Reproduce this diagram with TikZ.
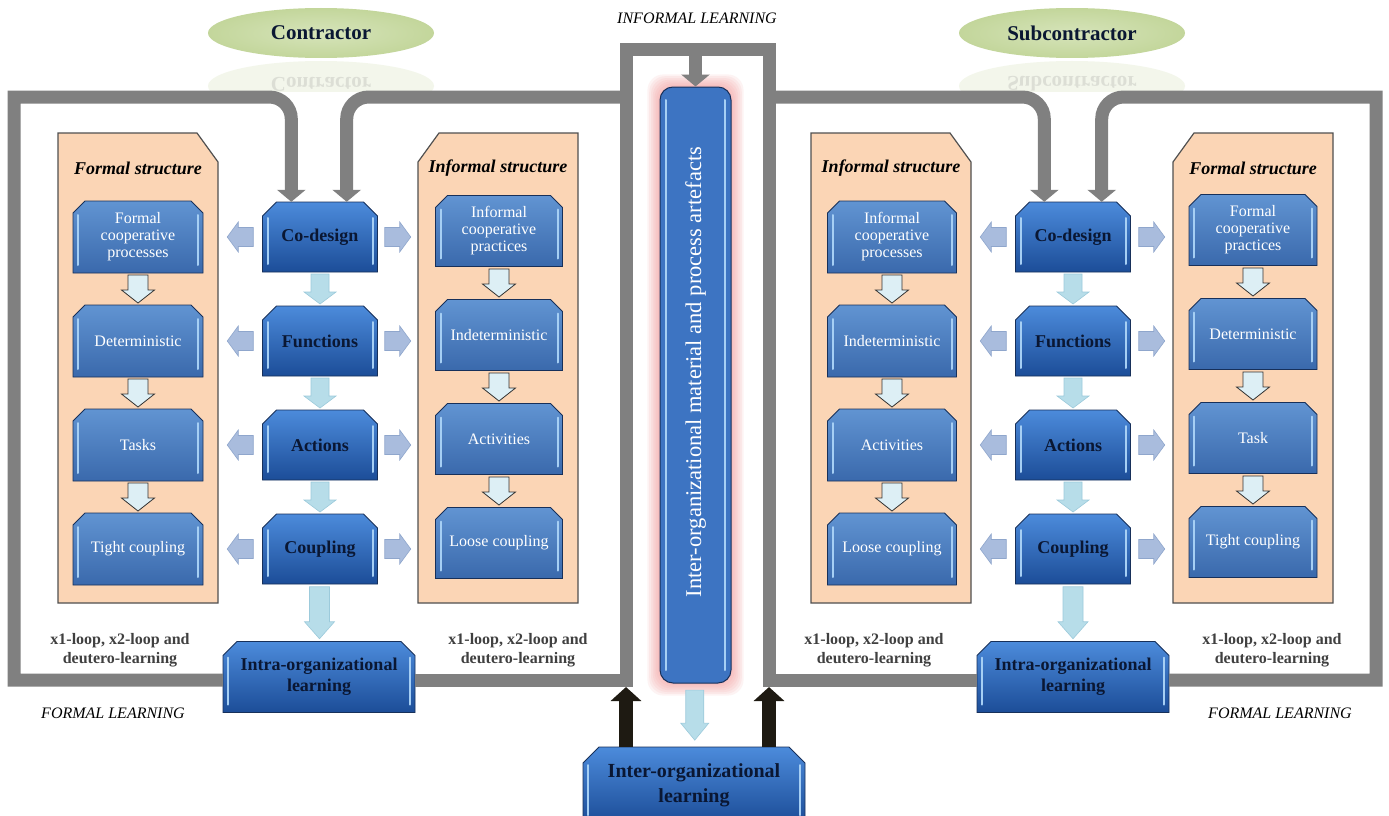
\documentclass[tikz,border=0pt]{standalone}
\usepackage{fontspec}
\setmainfont{Liberation Serif}
\usetikzlibrary{arrows.meta,calc,shapes.geometric}
\definecolor{gframe}{HTML}{808080}
\definecolor{peach}{HTML}{FBD5B5}
\definecolor{pedge}{HTML}{505050}
\definecolor{cbTop}{HTML}{4C8BDB}
\definecolor{cbBot}{HTML}{1C4D98}
\definecolor{pbTop}{HTML}{6194D2}
\definecolor{pbBot}{HTML}{3A69AC}
\definecolor{bedge}{HTML}{17305A}
\definecolor{hl}{HTML}{A6CFF4}
\definecolor{sideA}{HTML}{A9BCDD}
\definecolor{sideE}{HTML}{8FA6CC}
\definecolor{cyanA}{HTML}{B7DDE9}
\definecolor{cyanE}{HTML}{9CCADB}
\definecolor{panA}{HTML}{DDEFF5}
\definecolor{olive}{HTML}{C3D69B}
\definecolor{oliveL}{HTML}{D6E4BA}
\definecolor{loopc}{HTML}{404040}
\definecolor{pillc}{HTML}{3D74C2}
\definecolor{glowc}{HTML}{F08080}
\definecolor{navyt}{HTML}{0A1733}
\definecolor{blk}{HTML}{1E1A12}

\newcommand\mkbox[8]{%
  \path[#7fill] ({#2-#4/2},{#3+#5/2}) -- ({#2-#4/2},{#3-#5/2+#6}) -- ({#2-#4/2+#6},{#3-#5/2}) -- ({#2+#4/2-#6},{#3-#5/2}) -- ({#2+#4/2},{#3-#5/2+#6}) -- ({#2+#4/2},{#3+#5/2}) -- cycle;
  \draw[hilite] ({#2-#4/2+5},{#3-#5/2+#6+2}) -- ({#2-#4/2+5},{#3+#5/2-8});
  \draw[hilite] ({#2+#4/2-5},{#3-#5/2+#6+2}) -- ({#2+#4/2-5},{#3+#5/2-8});
  \node[#7text, minimum width=#4pt, minimum height=#5pt] (#1) at (#2,#3) {#8};}

\newcommand\panelNE[4]{%
  \path[panelfill] ({#2-80},{#3-235}) -- ({#2+59},{#3-235}) -- ({#2+80},{#3-206}) -- ({#2+80},{#3+235}) -- ({#2-80},{#3+235}) -- cycle;
  \node[inner sep=0pt, minimum width=160pt, minimum height=470pt] (#1) at (#2,#3) {};
  \node[paneltitle] (#1t) at (#2,{#3-200}) {#4};}
\newcommand\panelNW[4]{%
  \path[panelfill] ({#2+80},{#3-235}) -- ({#2-59},{#3-235}) -- ({#2-80},{#3-206}) -- ({#2-80},{#3+235}) -- ({#2+80},{#3+235}) -- cycle;
  \node[inner sep=0pt, minimum width=160pt, minimum height=470pt] (#1) at (#2,#3) {};
  \node[paneltitle] (#1t) at (#2,{#3-200}) {#4};}

\tikzset{
 gline/.style={draw=gframe, line width=13pt, line join=miter, line cap=butt},
 garrow/.style={gline, -{Triangle[width=28pt,length=12pt]}},
 blarrow/.style={draw=blk, line width=14pt, -{Triangle[width=30pt,length=14pt]}},
 cboxfill/.style={top color=cbTop, bottom color=cbBot, draw=bedge, line width=0.9pt},
 iboxfill/.style={cboxfill},
 pboxfill/.style={top color=pbTop, bottom color=pbBot, draw=bedge, line width=0.9pt},
 hilite/.style={draw=hl, line width=2pt, line cap=round},
 cboxtext/.style={inner sep=0pt, align=center, text=navyt, font=\bfseries\fontsize{18}{21}\selectfont},
 iboxtext/.style={inner sep=0pt, align=center, text=navyt, font=\bfseries\fontsize{20}{25}\selectfont},
 pboxtext/.style={inner sep=0pt, align=center, text=white, font=\fontsize{16}{17}\selectfont},
 panelfill/.style={fill=peach, draw=pedge, line width=1.2pt},
 paneltitle/.style={font=\bfseries\itshape\fontsize{18}{20}\selectfont, text=black},
 sidearr/.style={fill=sideA, draw=sideE, line width=.6pt},
 cyanarr/.style={fill=cyanA, draw=cyanE, line width=.6pt},
 panarr/.style={fill=panA, draw=black!80, line width=.8pt},
 looptext/.style={font=\bfseries\fontsize{16}{19}\selectfont, text=loopc, align=center},
 learn/.style={font=\itshape\fontsize{16}{19}\selectfont, text=black},
 ellip/.style={ellipse, minimum width=226pt, minimum height=50pt, inner sep=0pt, font=\bfseries\fontsize{21}{24}\selectfont, text=navyt},
 pics/barrow/.style args={#1/#2/#3/#4}{code={%
   \path[pic actions] ({-#1/2},{-#2/2}) -- ({#1/2-#4},{-#2/2}) -- ({#1/2-#4},{-#3/2}) -- ({#1/2},0) -- ({#1/2-#4},{#3/2}) -- ({#1/2-#4},{#2/2}) -- ({-#1/2},{#2/2}) -- cycle;}},
}

\begin{document}
\begin{tikzpicture}[x=1pt, y=-1pt]
\useasboundingbox (0,0) rectangle (1389,816);
\fill[white] (0,0) rectangle (1389,816);

% ellipses and reflections
\node[ellip, inner color=oliveL, outer color=olive] (contractor) at (321,33) {Contractor};
\node[ellip, inner color=oliveL, outer color=olive] (subcontractor) at (1072,33) {Subcontractor};
\begin{scope}
  \clip (190,61) rectangle (1200,91);
  \fill[olive, opacity=.2] (321,86) ellipse (113 and 25);
  \fill[olive, opacity=.2] (1072,86) ellipse (113 and 25);
  \begin{scope}[shift={(321,84)}, yscale=-1]
    \node[transform shape, opacity=.2, font=\bfseries\fontsize{21}{24}\selectfont, text=gray] (contractorR) at (0,0) {Contractor};
  \end{scope}
  \begin{scope}[shift={(1072,84)}, yscale=-1]
    \node[transform shape, opacity=.2, font=\bfseries\fontsize{21}{24}\selectfont, text=gray] (subcontractorR) at (0,0) {Subcontractor};
  \end{scope}
\end{scope}

% panels
\panelNE{FL}{138}{368}{Formal structure}
\panelNW{IL}{498}{368}{Informal structure}
\panelNE{IR}{891}{368}{Informal structure}
\panelNW{FR}{1253}{368}{Formal structure}

% left formal panel boxes
\mkbox{fl1}{138}{237}{130}{72}{12}{pbox}{Formal\\cooperative\\processes}
\mkbox{fl2}{138}{341}{130}{72}{12}{pbox}{Deterministic}
\mkbox{fl3}{138}{445}{130}{72}{12}{pbox}{Tasks}
\mkbox{fl4}{138}{549}{130}{72}{12}{pbox}{Tight coupling}
% left informal panel boxes
\mkbox{il1}{499}{231}{127}{71}{12}{pbox}{Informal\\cooperative\\practices}
\mkbox{il2}{499}{335}{127}{71}{12}{pbox}{Indeterministic}
\mkbox{il3}{499}{439}{127}{71}{12}{pbox}{Activities}
\mkbox{il4}{499}{543}{127}{71}{12}{pbox}{Loose coupling}
% right informal panel boxes
\mkbox{ir1}{892}{237}{129}{72}{12}{pbox}{Informal\\cooperative\\processes}
\mkbox{ir2}{892}{341}{129}{72}{12}{pbox}{Indeterministic}
\mkbox{ir3}{892}{445}{129}{72}{12}{pbox}{Activities}
\mkbox{ir4}{892}{549}{129}{72}{12}{pbox}{Loose coupling}
% right formal panel boxes
\mkbox{fr1}{1253}{230}{128}{71}{12}{pbox}{Formal\\cooperative\\practices}
\mkbox{fr2}{1253}{334}{128}{71}{12}{pbox}{Deterministic}
\mkbox{fr3}{1253}{438}{128}{71}{12}{pbox}{Task}
\mkbox{fr4}{1253}{542}{128}{71}{12}{pbox}{Tight coupling}

% center boxes
\mkbox{cdL}{320}{237}{115}{70}{14}{cbox}{Co-design}
\mkbox{fnL}{320}{341}{115}{70}{14}{cbox}{Functions}
\mkbox{acL}{320}{445}{115}{70}{14}{cbox}{Actions}
\mkbox{cpL}{320}{549}{115}{70}{14}{cbox}{Coupling}
\mkbox{cdR}{1073}{237}{115}{70}{14}{cbox}{Co-design}
\mkbox{fnR}{1073}{341}{115}{70}{14}{cbox}{Functions}
\mkbox{acR}{1073}{445}{115}{70}{14}{cbox}{Actions}
\mkbox{cpR}{1073}{549}{115}{70}{14}{cbox}{Coupling}
\mkbox{intraL}{319}{677}{192}{71}{14}{cbox}{Intra-organizational\\learning}
\mkbox{intraR}{1073}{677}{192}{71}{14}{cbox}{Intra-organizational\\learning}
\mkbox{inter}{694}{785}{222}{76}{16}{ibox}{Inter-organizational\\learning}

% central pill with glow
\foreach \g in {1,...,7}{
  \fill[glowc, opacity=0.09, rounded corners=16pt] ({660-\g*1.8},{87-\g*1.8}) rectangle ({731+\g*1.8},{683+\g*1.8});
}
\node[draw=bedge, line width=1pt, fill=pillc, rounded corners=13pt, minimum width=71pt, minimum height=596pt, inner sep=0pt] (pill) at (695.5,385) {};
\draw[hilite] (666,100) -- (666,670);
\draw[hilite] (725,100) -- (725,670);
\node[rotate=90, text=white, font=\fontsize{22.5}{24}\selectfont] (pilltext) at (695.5,372) {Inter-organizational material and process artefacts};

% labels
\node[looptext] (loopLL) at (120,650) {x1-loop, x2-loop and\\deutero-learning};
\node[looptext] (loopLR) at (518,650) {x1-loop, x2-loop and\\deutero-learning};
\node[looptext] (loopRL) at (874,650) {x1-loop, x2-loop and\\deutero-learning};
\node[looptext] (loopRR) at (1272,650) {x1-loop, x2-loop and\\deutero-learning};
\node[learn] (formalL) at (113,713) {FORMAL LEARNING};
\node[learn] (formalR) at (1280,713) {FORMAL LEARNING};
\node[learn] (informal) at (697,18) {INFORMAL LEARNING};

% block arrows: panels
\foreach \a/\b in {fl1/fl2,fl2/fl3,fl3/fl4,il1/il2,il2/il3,il3/il4,ir1/ir2,ir2/ir3,ir3/ir4,fr1/fr2,fr2/fr3,fr3/fr4}{
  \pic[panarr, rotate=-90] at ($(\a.south)!.5!(\b.north)$) {barrow=28/20/33/13};
}
% block arrows: centre column
\foreach \a/\b in {cdL/fnL,fnL/acL,acL/cpL,cdR/fnR,fnR/acR,acR/cpR}{
  \pic[cyanarr, rotate=-90] at ($(\a.south)!.5!(\b.north)$) {barrow=30/18/32/12};
}
\pic[cyanarr, rotate=-90] at ($(cpL.south)!.5!(intraL.north)$) {barrow=52/20/30/17};
\pic[cyanarr, rotate=-90] at ($(cpR.south)!.5!(intraR.north)$) {barrow=52/20/30/17};
\pic[cyanarr, rotate=-90] at ($(pill.south)!.5!(inter.north)$) {barrow=50/18/28/17};
% side arrows
\foreach \b in {cdL,fnL,acL,cpL}{
  \pic[sidearr, rotate=180] at ($(\b.west)!.5!(\b.west -| FL.east)$) {barrow=26/19/30/11};
  \pic[sidearr] at ($(\b.east)!.5!(\b.east -| IL.west)$) {barrow=26/19/30/11};
}
\foreach \b in {cdR,fnR,acR,cpR}{
  \pic[sidearr, rotate=180] at ($(\b.west)!.5!(\b.west -| IR.east)$) {barrow=26/19/30/11};
  \pic[sidearr] at ($(\b.east)!.5!(\b.east -| FR.west)$) {barrow=26/19/30/11};
}

% gray frame
\coordinate (TL) at (14,97);
\coordinate (BL) at (14,680);
\coordinate (TR) at (1376,97);
\coordinate (BR) at (1376,680);
\coordinate (CL) at (626,50);
\coordinate (CR) at (769,50);
\coordinate (aL1) at ([xshift=29pt]cdL.north west);
\coordinate (aL2) at ([xshift=-31pt]cdL.north east);
\coordinate (aR1) at ([xshift=29pt]cdR.north west);
\coordinate (aR2) at ([xshift=-29pt]cdR.north east);
\draw[garrow] (intraL.west |- BL) -- (BL) -- (TL) -- ($(TL)!.5!(aL1 |- TL)$) [rounded corners=22pt] -- (aL1 |- TL) -- (aL1);
\draw[gline] (intraL.east |- BL) -- (BL -| CL) -- (CL) -- (CR) -- (BR -| CR) -- (intraR.west |- BR);
\draw[garrow] (TL -| CL) -- ($(TL -| CL)!.5!(aL2 |- TL)$) [rounded corners=22pt] -- (aL2 |- TL) -- (aL2);
\draw[garrow] (TR -| CR) -- ($(TR -| CR)!.5!(aR1 |- TR)$) [rounded corners=22pt] -- (aR1 |- TR) -- (aR1);
\draw[garrow] (intraR.east |- BR) -- (BR) -- (TR) -- ($(TR)!.5!(aR2 |- TR)$) [rounded corners=22pt] -- (aR2 |- TR) -- (aR2);
\draw[garrow] (pill.north |- CL) -- (pill.north);

% black arrows
\coordinate (upL) at ($(BL -| CL)+(0,7)$);
\coordinate (upR) at ($(BR -| CR)+(0,7)$);
\draw[blarrow] (inter.north -| CL) -- (upL);
\draw[blarrow] (inter.north -| CR) -- (upR);
\end{tikzpicture}
\end{document}
